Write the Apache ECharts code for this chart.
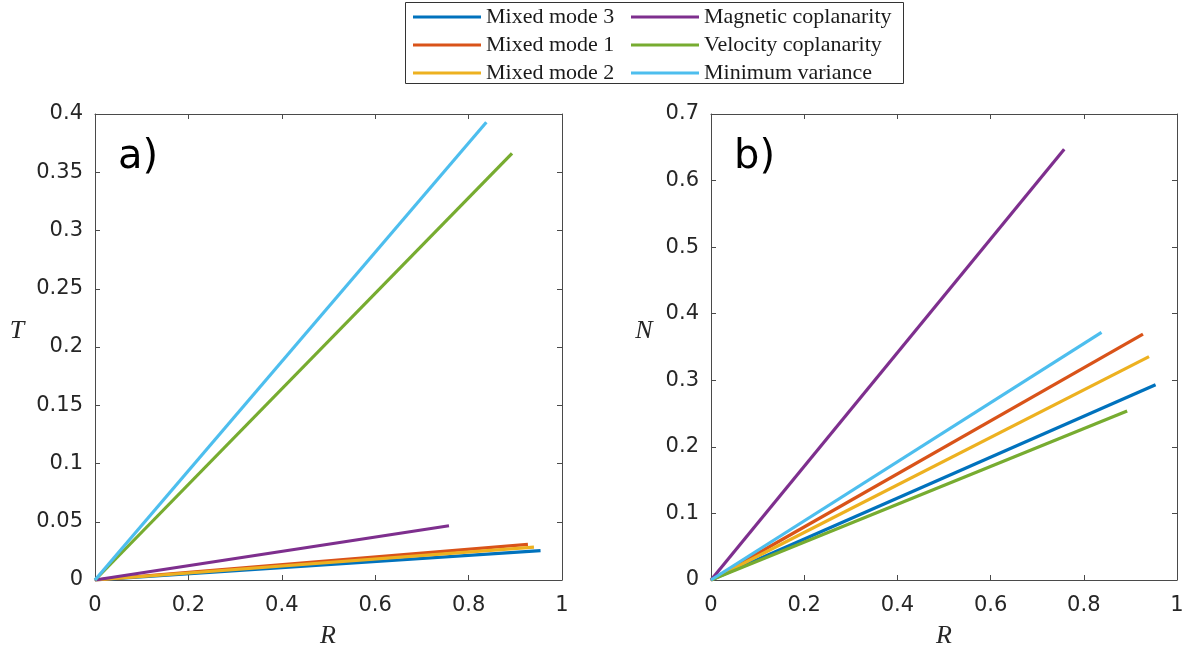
<!DOCTYPE html>
<html>
<head>
<meta charset="utf-8">
<script src="https://cdn.jsdelivr.net/npm/echarts@6/dist/echarts.min.js"></script>
<style>
  html, body { margin: 0; padding: 0; background: #fff; }
  #chart { width: 1189px; height: 652px; }
</style>
</head>
<body>
<div id="chart"></div>
<script>
// ---- data ----
const methods = ['Mixed mode 3', 'Mixed mode 1', 'Mixed mode 2', 'Magnetic coplanarity', 'Velocity coplanarity', 'Minimum variance'];
const endR = [0.954, 0.927, 0.940, 0.758, 0.893, 0.838];
const endT = [0.0252, 0.0306, 0.0283, 0.0466, 0.3663, 0.3929];
const endN = [0.2934, 0.3695, 0.3355, 0.647, 0.2539, 0.372];
const xTicks = [0, 0.2, 0.4, 0.6, 0.8, 1];
const tTicks = [0, 0.05, 0.1, 0.15, 0.2, 0.25, 0.3, 0.35, 0.4];
const nTicks = [0, 0.1, 0.2, 0.3, 0.4, 0.5, 0.6, 0.7];

// ---- style ----
const colors = ['#0072BD', '#D95319', '#EDB120', '#7E2F8E', '#77AC30', '#4DBEEE'];
const axisColor = '#4a4a4a';
const labelColor = '#262626';
const tickFont = 'DejaVu Sans';
const serif = 'Liberation Serif';

const chart = echarts.init(document.getElementById('chart'), null, { renderer: 'canvas' });

function axisBase(show, isX) {
  return {
    axisLine: { show: true, onZero: false, lineStyle: { color: axisColor, width: 1 } },
    axisTick: { show: true, inside: true, length: 5, lineStyle: { color: axisColor } },
    axisLabel: show
      ? { color: labelColor, fontFamily: tickFont, fontSize: 21, margin: isX ? 15 : 12,
          padding: isX ? 0 : [4, 0, 0, 0], formatter: v => String(+v.toFixed(2)) }
      : { show: false },
    splitLine: { show: false }
  };
}
function xAx(gridIndex, position, show) {
  return Object.assign({
    type: 'value', gridIndex, min: xTicks[0], max: xTicks[xTicks.length - 1], interval: 0.2, position
  }, axisBase(show, true));
}
function yAx(gridIndex, ticks, interval, position, show) {
  return Object.assign({
    type: 'value', gridIndex, min: ticks[0], max: ticks[ticks.length - 1], interval, position
  }, axisBase(show, false));
}

const series = [];
methods.forEach((name, i) => {
  series.push({
    name, type: 'line', xAxisIndex: 0, yAxisIndex: 0,
    data: [[0, 0], [endR[i], endT[i]]],
    showSymbol: false, symbol: 'none', color: colors[i],
    lineStyle: { width: 3.2, color: colors[i] }, animation: false, z: 2 + i
  });
});
methods.forEach((name, i) => {
  series.push({
    name, type: 'line', xAxisIndex: 2, yAxisIndex: 2,
    data: [[0, 0], [endR[i], endN[i]]],
    showSymbol: false, symbol: 'none', color: colors[i],
    lineStyle: { width: 3.2, color: colors[i] }, animation: false, z: 2 + i
  });
});

const legendCommon = {
  orient: 'vertical', top: 6, padding: 0, itemGap: 6,
  icon: 'rect', itemWidth: 68, itemHeight: 3,
  textStyle: { fontFamily: serif, fontSize: 22, color: '#1a1a1a', lineHeight: 20 },
  selectedMode: false
};

const nameFont = 'italic 26px "Liberation Serif"';

const option = {
  backgroundColor: '#ffffff',
  animation: false,
  grid: [
    { left: 95, top: 114, width: 467, height: 466 },
    { left: 711, top: 114, width: 466, height: 466 }
  ],
  xAxis: [xAx(0, 'bottom', true), xAx(0, 'top', false), xAx(1, 'bottom', true), xAx(1, 'top', false)],
  yAxis: [yAx(0, tTicks, 0.05, 'left', true), yAx(0, tTicks, 0.05, 'right', false),
          yAx(1, nTicks, 0.1, 'left', true), yAx(1, nTicks, 0.1, 'right', false)],
  legend: [
    Object.assign({}, legendCommon, { left: 413, data: methods.slice(0, 3) }),
    Object.assign({}, legendCommon, { left: 631, data: methods.slice(3) })
  ],
  graphic: [
    { type: 'rect', z: -1, shape: { x: 405.5, y: 2.5, width: 498, height: 81 },
      style: { fill: '#ffffff', stroke: '#333333', lineWidth: 1 } },
    { type: 'text', left: 118, top: 138, style: { text: 'a)', font: '40px "DejaVu Sans"', fill: '#000' } },
    { type: 'text', left: 734, top: 138, style: { text: 'b)', font: '40px "DejaVu Sans"', fill: '#000' } },
    { type: 'text', x: 17, y: 331, style: { text: 'T', font: nameFont, fill: labelColor, align: 'center', verticalAlign: 'middle' } },
    { type: 'text', x: 644, y: 331, style: { text: 'N', font: nameFont, fill: labelColor, align: 'center', verticalAlign: 'middle' } },
    { type: 'text', x: 328, y: 636, style: { text: 'R', font: nameFont, fill: labelColor, align: 'center', verticalAlign: 'middle' } },
    { type: 'text', x: 944, y: 636, style: { text: 'R', font: nameFont, fill: labelColor, align: 'center', verticalAlign: 'middle' } }
  ],
  series
};
chart.setOption(option);
</script>
</body>
</html>
